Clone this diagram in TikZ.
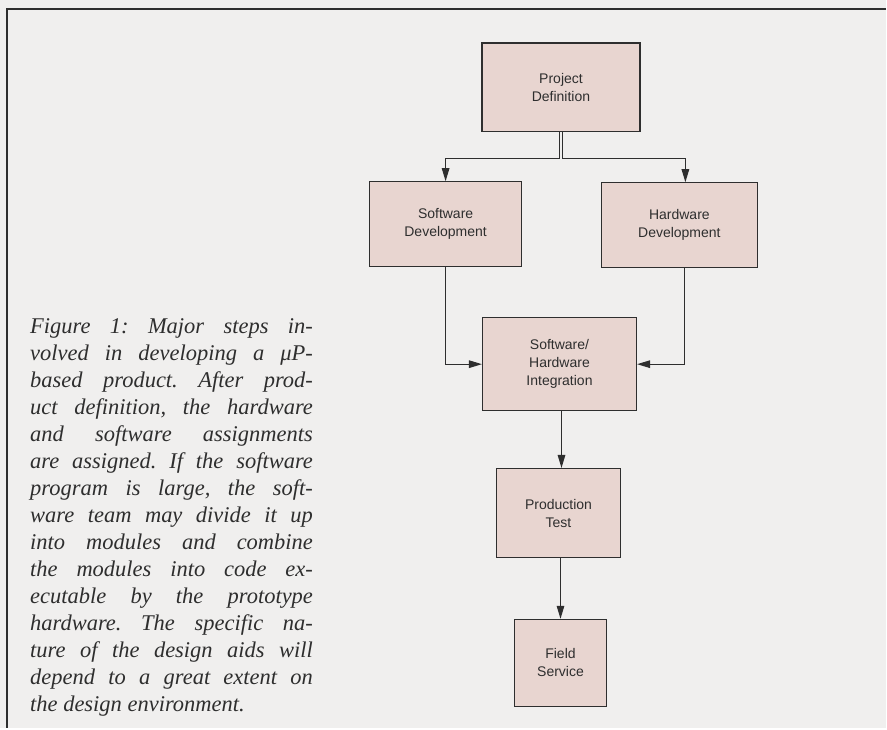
\documentclass[tikz,border=0pt]{standalone}
\usepackage{fontspec}
\setmainfont{Liberation Serif}
\newfontfamily\boxfont{Liberation Sans}
\usepackage{xcolor}
\usetikzlibrary{arrows.meta}
\definecolor{paper}{HTML}{F0EFEE}
\definecolor{boxpink}{HTML}{E8D5D0}
\definecolor{inkgray}{HTML}{2E2E2E}
\tikzset{
  fLine/.style={draw=inkgray,line width=1.2pt},
  fLink/.style={fLine,-{Triangle[length=13pt,width=7.5pt]},line join=miter},
  fBox/.style={fLine,fill=boxpink,inner sep=0pt,align=center,text=inkgray,
        font=\boxfont\fontsize{14}{18}\selectfont},
  fNote/.style={inner sep=0pt,align=justify,text width=283pt,text=inkgray,
        font=\frenchspacing\itshape\fontsize{22.5}{27}\selectfont},
}
\begin{document}
\begin{tikzpicture}[x=1pt,y=-1pt]
\fill[paper] (0,0) rectangle (887,729);
\draw[fLine,line width=1.6pt] (887,9) -- (7,9) -- (7,729);
% flow boxes
\node[fBox,minimum width=158pt,minimum height=89pt] (proj) at (561.5,87.5) {Project\\Definition};
\node[fBox,minimum width=152pt,minimum height=85pt] (soft) at (446,224.5) {Software\\Development};
\node[fBox,minimum width=156pt,minimum height=85pt] (hard) at (680,225.5) {Hardware\\Development};
\node[fBox,minimum width=154pt,minimum height=93pt] (integ) at (560,364.5) {Software/\\Hardware\\Integration};
\node[fBox,minimum width=124pt,minimum height=89pt] (prod) at (559,513.5) {Production\\Test};
\node[fBox,minimum width=92pt,minimum height=87pt] (field) at (561,663.5) {Field\\Service};
% caption
\node[fNote,anchor=north west] (cap) at (30,319) {Figure 1: Major steps in-\linebreak
volved in developing a μP-\linebreak
based product. After prod-\linebreak
uct definition, the hardware\linebreak
and software assignments\linebreak
are assigned. If the software\linebreak
program is large, the soft-\linebreak
ware team may divide it up\linebreak
into modules and combine\linebreak
the modules into code ex-\linebreak
ecutable by the prototype\linebreak
hardware. The specific na-\linebreak
ture of the design aids will\linebreak
depend to a great extent on\linebreak
the design environment.};
% connectors
\draw[fLink] ([xshift=-1.5pt]proj.south) -- ++(0,26) -| (soft.north);
\draw[fLink] ([xshift=1.5pt]proj.south) -- ++(0,26) -| ([xshift=6pt]hard.north);
\draw[fLink] (soft.south) |- (integ.west);
\draw[fLink] ([xshift=5pt]hard.south) |- (integ.east);
\draw[fLink] ([xshift=2pt]integ.south) -- ([xshift=2pt]integ.south |- prod.north);
\draw[fLink] (field.north |- prod.south) -- (field.north);
\end{tikzpicture}
\end{document}
